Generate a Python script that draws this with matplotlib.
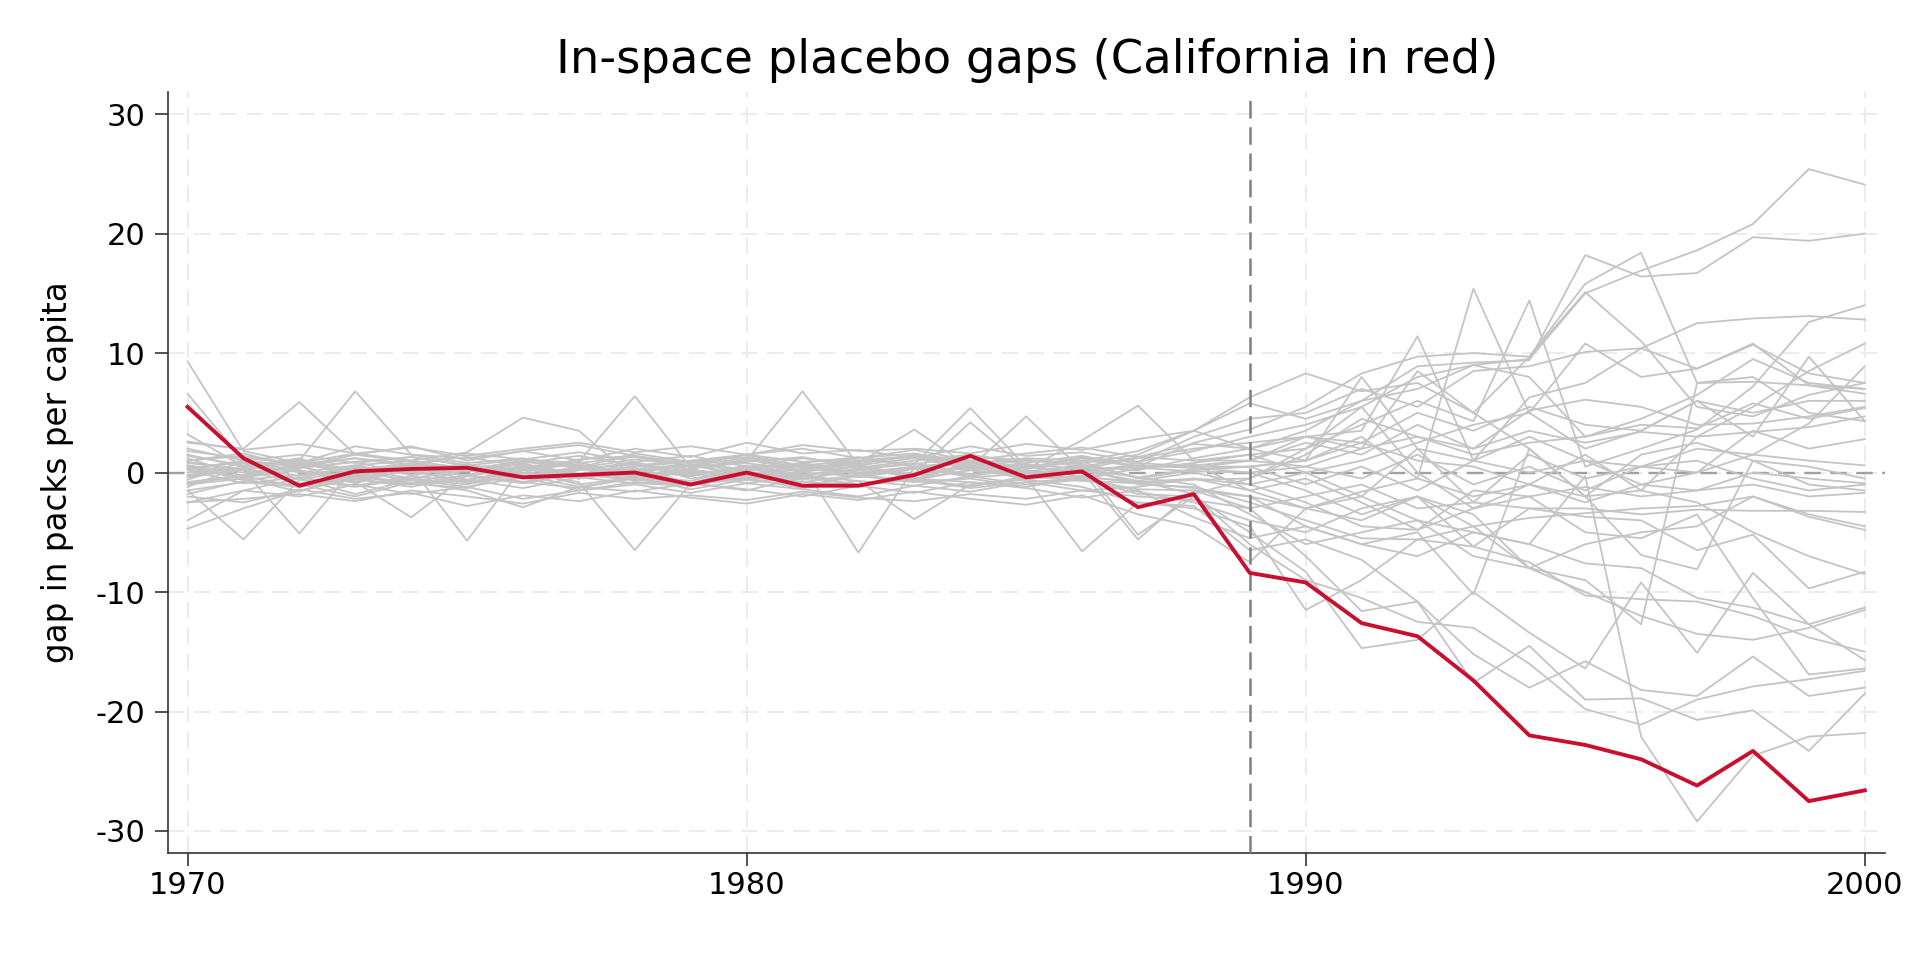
import matplotlib
matplotlib.use("Agg")
import matplotlib.pyplot as plt
import numpy as np

plt.rcParams['font.family'] = ['DejaVu Sans']
plt.rcParams['axes.unicode_minus'] = False

years = list(range(1970, 2001))
treatment_year = 1989

california = [5.5, 1.2, -1.1, 0.1, 0.3, 0.4, -0.4, -0.2, 0.0, -1.0, 0.0, -1.1, -1.1, -0.2, 1.4,
              -0.4, 0.1, -2.9, -1.8, -8.4, -9.2, -12.6, -13.7, -17.4, -22.0, -22.8, -24.0, -26.2,
              -23.3, -27.5, -26.6]

# placebo gaps: pre-period 1970-1988 (19 values)
placebo_pre = [
    [0.8, 0.3, -0.5, 0.6, -0.2, 0.4, -0.8, 0.2, 0.9, -0.3, 0.5, -0.6, 0.3, 0.8, -0.2, 0.6, -0.4, 0.9, 1.8],
    [-0.6, 0.9, 0.2, -0.8, 0.5, -0.3, 0.6, -0.5, 0.1, 0.7, -0.4, 0.8, -0.2, 0.4, 1.0, -0.3, 0.5, 0.2, 1.2],
    [1.5, 0.5, 1.2, -0.4, 0.8, 0.2, 1.0, 0.6, -0.5, 0.3, 1.1, 0.2, 0.7, -0.6, 0.9, 0.4, 1.2, 0.5, 2.5],
    [2.0, 1.0, 0.5, 1.5, 0.9, 0.4, 0.8, 1.4, 0.6, 1.0, 1.5, 0.5, 1.2, 1.6, 0.8, 1.2, 1.0, 1.8, 3.5],
    [-1.2, 0.6, -0.3, 0.4, -0.9, 0.2, -0.5, 0.3, -0.2, -0.7, 0.4, -0.3, 0.6, -0.5, 0.2, 0.7, -0.4, 0.3, 0.8],
    [0.3, -0.4, 0.8, -0.2, 0.5, -0.6, 0.2, 0.9, -0.4, 0.1, -0.5, 0.7, 0.0, 0.5, -0.3, 0.4, 0.9, -0.5, 0.2],
    [1.0, 1.6, 0.4, 0.9, 1.3, 0.6, 0.2, 1.1, 1.4, 0.5, 0.9, 1.3, 0.4, 1.0, 1.5, 0.7, 0.3, 1.2, 2.0],
    [9.3, 1.8, 0.8, 2.2, 1.5, 1.2, 1.8, 1.0, 2.0, 1.3, 2.5, 1.6, 1.9, 1.2, 2.2, 1.4, 1.7, 0.9, 3.0],
    [-0.8, -0.2, 0.5, -0.6, 0.2, -0.9, 0.3, -0.4, 0.6, -0.1, 0.4, -0.5, 0.2, -0.3, 0.5, -0.6, 0.1, 0.5, 0.6],
    [0.5, -0.6, -0.2, 0.4, -0.5, 0.3, -0.3, 0.5, -0.7, 0.2, -0.2, 0.6, -0.4, 0.3, -0.1, 0.2, -0.6, 0.4, 0.1],
    [-1.5, -0.8, -1.2, -0.3, -1.0, -0.6, -1.3, -0.4, -0.9, -1.1, -0.2, -0.8, -1.0, -0.5, -1.2, -0.3, -0.7, -0.9, -0.6],
    [2.5, 2.0, 5.9, 1.5, 2.2, 1.0, 1.8, 2.3, 1.4, 0.8, 1.5, 2.0, 1.2, 1.9, 1.0, 1.6, 2.1, 1.3, 2.4],
    [-2.5, -1.5, -2.0, -1.0, -1.8, -1.2, -2.2, -1.5, -1.0, -1.7, -0.9, -1.4, -2.0, -1.1, -1.6, -0.8, -1.5, -1.2, -0.5],
    [3.2, 0.5, 1.0, 6.8, 1.5, 0.8, 1.2, 0.4, 1.6, 0.9, 1.3, 0.6, 1.0, 1.4, 0.7, 1.1, 0.5, 1.3, 1.0],
    [0.0, 0.4, -0.6, 0.2, 0.6, -0.3, 0.5, -0.2, 0.3, 0.7, -0.4, 0.1, 0.5, -0.2, 0.6, 0.0, 0.3, -0.4, 0.3],
    [-4.0, -1.5, -0.5, -1.8, -0.6, -1.2, -0.4, -1.5, -0.8, -1.0, -0.5, -1.3, -0.7, -1.1, -0.3, -1.0, -0.6, -1.4, -1.5],
    [-0.3, 0.2, -0.9, -0.4, 0.1, -0.7, 0.4, -0.2, -0.6, 0.3, -0.5, 0.0, -0.3, 0.5, -0.4, -0.1, 0.2, -0.8, -0.5],
    [-2.5, -2.2, -1.8, -2.4, -1.5, -2.0, -2.6, -1.7, -2.2, -1.9, -2.3, -1.6, -2.1, -2.4, -1.8, -2.2, -1.5, -2.0, -2.3],
    [1.2, -0.3, 0.6, -0.8, -3.75, -0.2, 0.8, -0.5, 0.4, -0.9, 0.3, -0.4, 0.7, -0.6, 0.2, -0.3, 0.5, -1.0, -1.2],
    [-4.7, -3.0, -1.5, -0.5, -1.2, -0.3, -0.9, -0.1, -0.6, -1.0, -0.4, -0.8, -0.2, -0.7, -1.1, -0.5, -0.3, -1.6, -2.5],
    [0.6, -0.4, 0.2, -0.9, 0.4, -5.7, 0.5, -0.2, 0.8, -0.5, 0.1, -0.6, 0.4, -0.3, 0.6, -0.4, 0.2, -0.7, 0.0],
    [-1.8, -0.7, -1.0, -2.0, -0.8, -1.5, -2.9, -1.2, -1.6, -0.9, -1.4, -2.0, -1.1, -1.7, -0.8, -1.3, -2.1, -1.5, -3.75],
    [1.8, 1.2, 0.8, 1.6, 1.0, 1.7, 4.6, 3.5, -0.5, 0.6, 1.2, 0.4, 0.9, 1.3, 0.5, 1.0, 0.7, -0.4, -1.0],
    [-1.0, -0.5, -1.6, -0.2, -0.9, -1.3, 0.2, -1.0, -0.4, -1.4, -0.6, -0.2, -1.1, -0.5, -0.8, -1.2, -0.3, -0.9, -1.3],
    [0.2, -0.9, -0.4, -1.1, -0.3, -0.8, -0.2, -1.2, -0.5, 0.0, -0.9, -0.3, -0.7, -3.9, -1.0, -0.6, -1.2, -2.5, -3.0],
    [-1.5, -5.6, -0.6, -1.2, -0.5, -1.0, 0.0, -0.8, -6.5, -0.9, -1.5, -0.4, -1.0, -0.6, -1.3, -0.8, -0.5, -1.8, -2.0],
    [0.9, 0.2, -5.1, 0.5, 0.0, 0.6, -0.4, 0.3, 0.7, -0.2, 0.4, 0.8, -0.1, 0.5, 0.2, -0.4, -6.6, -2.5, -2.8],
    [-0.4, 0.3, 0.9, 0.1, -0.6, 0.4, 0.0, -0.5, 0.2, -0.3, 0.6, -0.2, 0.3, 0.7, 5.4, 0.5, 0.1, -5.6, -1.5],
    [0.4, 0.8, 0.0, 0.6, 1.0, 0.3, 0.7, -0.1, 0.5, 0.9, 0.2, 0.6, -6.7, 0.4, 0.8, 0.1, 0.6, -5.2, -2.0],
    [1.4, 0.6, 1.1, 0.2, 0.8, 1.3, 0.5, 0.9, 6.4, 0.4, 1.0, 6.8, 0.6, 1.2, 0.3, 0.8, 1.4, 0.5, 0.7],
    [-0.2, 0.5, 0.1, -0.5, 0.3, 0.7, -0.3, 0.4, 0.0, 0.6, -0.2, 0.3, 0.8, 3.6, 0.4, 4.7, 0.2, 0.6, 0.4],
    [0.6, 0.0, 0.4, 0.9, -0.2, 0.5, 0.2, 0.7, -0.3, 0.4, 0.8, 0.1, 0.5, -0.1, 4.2, 0.3, 2.7, 5.6, 1.0],
    [1.0, 1.4, 0.7, 1.2, 0.5, 1.6, 1.1, 0.8, 1.3, 0.6, 1.5, 0.9, 1.2, 0.7, 1.4, 1.0, 0.8, 1.5, 3.5],
    [2.6, 1.9, 2.4, 1.6, 2.1, 1.4, 2.0, 2.5, 1.7, 2.2, 1.5, 2.3, 1.8, 2.0, 1.6, 2.4, 1.9, 2.8, 3.5],
    [-0.9, -0.3, -1.2, -0.6, -1.0, -0.2, -0.8, -1.3, -0.4, -0.9, -0.6, -1.1, -0.3, -0.8, -0.5, -1.2, -0.4, -0.7, -1.8],
    [0.3, 1.0, 0.5, 1.2, 0.7, 0.1, 0.9, 0.4, 1.1, 0.6, 0.2, 0.8, 1.3, 0.5, 0.9, 0.3, 1.0, 0.6, 0.4],
    [-2.0, -2.5, -1.4, -2.2, -1.7, -2.8, -1.9, -2.4, -1.5, -2.1, -2.6, -1.8, -2.3, -1.6, -2.2, -2.7, -1.9, -3.5, -4.5],
    [6.6, 1.0, 1.5, 0.8, 1.3, 0.6, 1.1, 1.7, 0.9, 1.4, 0.5, 1.2, 0.7, 1.5, 1.0, 0.4, 1.3, 0.8, 0.5],
]

# placebo gaps: post-period 1989-2000 (12 values)
placebo_post = [
    [3.0, 4.0, 5.5, 8.0, 9.0, 9.5, 15.0, 16.9, 18.6, 20.8, 25.4, 24.1],
    [2.0, 3.5, 6.0, 8.9, 9.2, 9.4, 18.2, 16.4, 16.7, 19.7, 19.4, 20.0],
    [3.6, 5.5, 8.3, 9.7, 10.0, 9.7, 15.8, 18.4, 7.5, 7.6, 7.3, 7.0],
    [6.3, 8.3, 6.8, 7.5, 5.0, 9.7, 15.1, 11.0, 5.5, 4.7, 6.5, 7.5],
    [1.5, 2.0, 4.0, 6.0, 4.3, 14.4, 0.5, 2.0, 3.6, 7.2, 12.6, 14.0],
    [0.5, 1.0, 3.0, -0.5, 15.4, 5.0, 10.8, 8.0, 8.7, 10.7, 8.3, 7.5],
    [2.5, 3.0, 3.5, 11.4, 1.0, 6.3, 7.5, 10.4, 12.5, 12.9, 13.1, 12.8],
    [4.5, 5.0, 7.0, 5.5, 8.5, 8.9, 10.1, 10.4, 8.7, 10.8, 7.3, 6.6],
    [1.0, 2.5, 1.5, 4.0, 2.0, 5.2, 6.1, 5.5, 4.0, 4.1, 4.7, 5.5],
    [0.0, 0.5, 2.0, 3.0, 1.5, 2.5, 3.0, 4.0, 3.7, 5.8, 4.5, 5.4],
    [-0.5, 1.5, 4.5, 3.0, 2.0, 3.5, 2.5, 3.4, 3.0, 3.4, 3.8, 4.7],
    [2.0, 1.0, 2.5, 1.0, 0.5, -1.0, 1.5, -1.5, 3.0, 5.5, 8.5, 10.8],
    [-1.0, 0.0, -2.0, 2.0, -2.5, 1.5, -0.5, 0.5, 0.0, 1.5, 4.1, 8.9],
    [1.5, 0.0, 1.0, 2.5, 4.0, 5.0, 2.0, 3.5, 6.0, 3.0, 9.7, 4.3],
    [0.5, -1.0, 0.5, -1.5, 1.0, 0.0, 1.0, 0.5, 2.0, 1.5, 1.0, 0.6],
    [-2.0, -3.0, -1.6, -0.5, -2.0, -1.0, -2.5, -1.0, -1.5, 0.0, -0.5, -0.9],
    [-1.5, -0.5, -2.5, -4.8, -1.5, -2.0, -1.2, -2.0, -1.5, -1.0, -2.0, -1.7],
    [-3.0, -2.0, -1.0, -3.0, -2.5, -3.0, -3.0, -3.5, -3.1, -3.2, -3.2, -3.3],
    [-2.5, -4.0, -5.5, -5.6, -4.5, -3.8, -3.4, -3.0, -2.8, -2.0, -3.7, -4.8],
    [-4.0, -5.0, -3.0, -2.0, -6.2, -3.0, -3.7, -4.0, -6.5, -5.2, -9.7, -8.3],
    [-1.0, -2.5, -4.5, -4.8, -3.0, -2.0, -5.0, -5.5, -3.5, -10.5, -16.9, -16.4],
    [-5.5, -4.5, -6.0, -5.0, -10.2, 2.0, -2.0, -6.9, -8.1, 1.0, 0.5, -0.5],
    [-3.5, -6.0, -5.0, -4.0, -7.0, -8.0, -9.0, -12.7, 7.5, 8.0, 5.0, 4.3],
    [-2.0, -4.5, -6.0, -7.0, -5.0, -6.0, -7.6, -8.0, -10.5, -11.3, -12.7, -11.3],
    [-4.5, -11.5, -9.0, -5.6, -6.2, -7.5, -10.3, -10.6, -10.8, -12.0, -13.8, -15.0],
    [-5.0, -8.3, -14.7, -14.0, -10.0, -13.4, -16.4, -9.2, -15.1, -8.4, -12.7, -15.7],
    [-6.5, -5.6, -7.3, -10.8, -15.2, -18.0, -15.8, -18.2, -18.7, -15.4, -18.7, -18.0],
    [-3.0, -7.0, -11.6, -10.8, -17.6, -14.5, -19.0, -18.9, -20.7, -19.9, -23.3, -18.5],
    [-6.0, -9.0, -10.5, -12.5, -13.0, -16.0, -19.8, -21.1, -19.0, -17.9, -17.3, -16.6],
    [-1.5, -3.0, -2.0, -4.0, -5.0, -6.0, -0.3, -22.1, -29.2, -23.7, -22.1, -21.8],
    [0.0, -1.5, -3.5, -2.0, -4.5, -8.0, -6.0, -5.0, -4.5, -2.0, -3.5, -4.5],
    [1.0, 0.5, -0.5, 1.5, -1.0, 0.5, -1.5, 0.5, 1.0, -0.5, -1.5, -1.0],
    [2.0, 3.0, 2.5, 5.0, 3.5, 5.5, 4.0, 3.5, 6.0, 5.0, 6.0, 6.0],
    [5.8, 4.5, 6.0, 7.0, 9.0, 8.0, 3.0, 4.5, 6.5, 9.5, 7.5, 7.0],
    [-0.5, 2.0, 5.5, 0.0, -3.0, -1.0, -2.0, -1.5, -2.5, -5.0, -7.0, -8.5],
    [1.0, 3.0, 2.0, 8.5, 5.0, 2.0, -2.0, 1.5, 2.5, 1.0, -1.0, -1.5],
    [-7.5, -3.0, -4.0, -2.0, -3.5, -8.0, -10.0, -12.0, -13.5, -14.0, -13.0, -11.5],
    [0.5, 1.0, 8.0, 2.0, 1.0, 3.0, 1.0, -1.0, 0.0, 3.5, 2.0, 2.8],
]

x_ticks = [1970, 1980, 1990, 2000]
y_ticks = [-30, -20, -10, 0, 10, 20, 30]

fig = plt.figure(figsize=(19.2, 9.6), dpi=100)
ax = fig.add_axes([0.0875, 0.1115, 0.8945, 0.7925])

for pre, post in zip(placebo_pre, placebo_post):
    ax.plot(years, pre + post, color='#c4c4c4', lw=1.3, zorder=2)

ax.axhline(0, color='#a0a0a0', lw=1.7, ls=(0, (7, 4)), zorder=1.5)
ax.axvline(treatment_year, color='#808080', lw=1.8, ls=(0, (7, 3.5)), zorder=3)
ax.plot(years, california, color='#c8102e', lw=2.8, zorder=4)

ax.set_xlim(1969.65, 2000.37)
ax.set_ylim(-31.84, 31.84)
ax.set_xticks(x_ticks)
ax.set_yticks(y_ticks)
ax.grid(True, color='#ececec', lw=1.5, ls=(0, (8, 4.5)), zorder=0)
ax.set_axisbelow(True)
for s in ['top', 'right']:
    ax.spines[s].set_visible(False)
for s in ['left', 'bottom']:
    ax.spines[s].set_color('#333333')
    ax.spines[s].set_linewidth(1.2)
ax.tick_params(labelsize=22, length=9.5, width=1.2, color='#333333')
ax.tick_params(axis='x', pad=3.5)
ax.tick_params(axis='y', pad=7)
ax.set_ylabel('gap in packs per capita', fontsize=23.5, labelpad=15)
ax.set_title('In-space placebo gaps (California in red)', fontsize=33.5, pad=14)

fig.savefig('out.png', dpi=100)
